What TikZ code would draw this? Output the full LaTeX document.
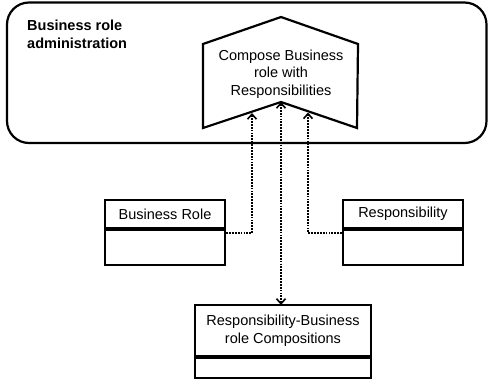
\documentclass[tikz,border=0pt]{standalone}
\usepackage{fontspec}
\setmainfont{Liberation Sans}
\usepackage{tikz}
\usetikzlibrary{positioning}
\usetikzlibrary{arrows.meta}
\usetikzlibrary{calc}

\begin{document}
\begin{tikzpicture}[x=1pt, y=-1pt]
        \tikzstyle{txt} = [font=\fontsize{14.5}{17.5}\selectfont]
        \tikzstyle{header} = [txt, rectangle, draw, line width=2.2pt, align=center, inner sep=0pt]
        \tikzstyle{body} = [rectangle, draw, line width=2.2pt, inner sep=0pt]
        \tikzstyle{link} = [line width=1.8pt, dash pattern=on 1.8pt off 1.1pt, >={Straight Barb[length=5pt, width=9pt, line width=1.6pt]}]

        \useasboundingbox (0,0) rectangle (489,378);

        % outer frame
        \draw[line width=2.2pt, rounded corners=22pt] (7,2.5) rectangle (486.5,143);
        \node[txt, font=\fontsize{14.5}{18}\bfseries\selectfont, anchor=west, align=left, inner sep=0pt] (admin) at (27,34) {Business role\\administration};

        % process chevron
        \coordinate (notch) at (281,102);
        \draw[line width=2.2pt, line join=miter] (203,44) -- (281,17) -- (358,44) -- (357,128) -- (notch) -- (203,128) -- cycle;
        \node[txt, align=center, inner sep=0pt] (compose) at (281,74) {Compose Business\\role with\\Responsibilities};
        \coordinate (in1) at (252,113);
        \coordinate (in2) at (308,112.5);

        % classes
        \foreach \name/\x/\label in {role/165/Business Role, resp/403/Responsibility}
        {
                \node[header, minimum width=120pt, minimum height=28pt] (\name) at (\x,214) {\label};
                \node[body, minimum width=120pt, minimum height=35pt, below=0pt of \name] (\name-body) {};
        }
        \node[header, minimum width=176pt, minimum height=51pt] (comp) at (283,330.5) {Responsibility-Business\\role Compositions};
        \node[body, minimum width=176pt, minimum height=20pt, below=0pt of comp] (comp-body) {};

        % connectors
        \draw[link, ->] ([yshift=-4pt]role-body.north east) -| (in1);
        \draw[link, ->] ([yshift=-4pt]resp-body.north west) -| (in2);
        \draw[link, <->] (notch) -- ([yshift=-1pt]notch |- comp.north);
\end{tikzpicture}
\end{document}
